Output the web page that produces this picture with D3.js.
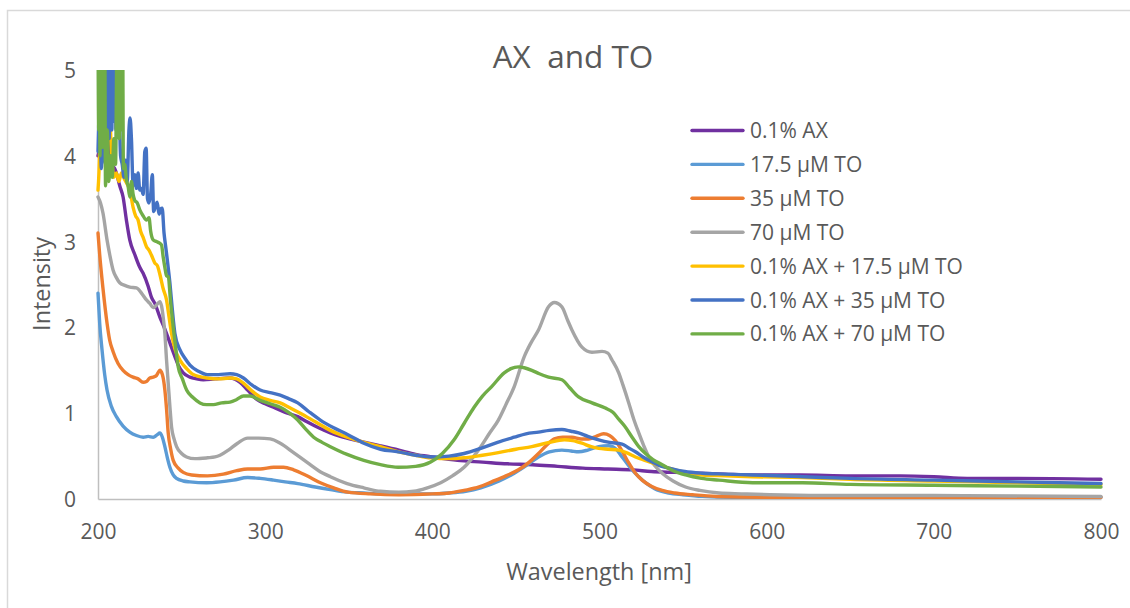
<!DOCTYPE html>
<html>
<head>
<meta charset="utf-8">
<script src="https://cdn.jsdelivr.net/npm/d3@7"></script>
<style>
  html, body { margin: 0; padding: 0; background: #fff; }
  svg { display: block; font-family: "Open Sans", "Noto Sans", sans-serif; }
</style>
</head>
<body>
<svg id="chart" width="1130" height="608"></svg>
<script>
// ---------- DATA ----------
const title = "AX  and TO";
const xTitle = "Wavelength [nm]";
const yTitle = "Intensity";
const xTicks = [200, 300, 400, 500, 600, 700, 800];
const yTicks = [0, 1, 2, 3, 4, 5];
const seriesNames = ["0.1% AX", "17.5 \u00B5M TO", "35 \u00B5M TO", "70 \u00B5M TO",
  "0.1% AX + 17.5 \u00B5M TO", "0.1% AX + 35 \u00B5M TO", "0.1% AX + 70 \u00B5M TO"];
const seriesColors = ["#7030A0", "#5B9BD5", "#ED7D31", "#A5A5A5", "#FFC000", "#4472C4", "#70AD47"];

// [wavelength nm, intensity]
const ax01 = [[200,4.00],[202,4.30],[203.8,5.60],[204.2,4.60],[204.6,5.60],[205,4.70],[205.4,5.60],[206.5,4.50],[207.5,4.00],[208.5,3.90],[210,3.85],[211,3.80],[213,3.65],[215,3.52],[217,3.25],[219,3.02],[222,2.85],[225,2.70],[227,2.63],[230,2.48],[232,2.35],[234,2.28],[237,2.12],[240,1.98],[243,1.82],[246,1.66],[248,1.56],[251,1.47],[255,1.42],[259,1.40],[263,1.39],[270,1.40],[279,1.41],[285,1.36],[289.5,1.27],[295,1.16],[300,1.11],[305,1.07],[312,1.01],[319.5,0.96],[325,0.90],[332,0.83],[339,0.77],[345,0.73],[355,0.68],[369,0.62],[380,0.57],[390,0.52],[400,0.49],[415,0.45],[430,0.43],[445,0.41],[460,0.40],[475,0.38],[490,0.36],[505,0.35],[520,0.34],[531,0.32],[545,0.31],[560,0.30],[575,0.29],[590,0.28],[620,0.28],[650,0.27],[680,0.27],[700,0.26],[720,0.24],[750,0.24],[800,0.23]];

const to175 = [[200,2.40],[201,2.05],[202.4,1.74],[204,1.45],[205.4,1.27],[208,1.08],[211,0.96],[215,0.85],[219,0.78],[223,0.74],[227,0.72],[230,0.73],[233,0.72],[235.5,0.75],[237,0.77],[238.5,0.72],[240,0.61],[241.5,0.48],[243,0.37],[245,0.28],[247,0.24],[251,0.21],[255,0.20],[265,0.19],[273,0.20],[281,0.22],[289.5,0.25],[297,0.24],[305,0.22],[312,0.20],[319.5,0.18],[330,0.14],[339,0.11],[349,0.08],[359,0.07],[370,0.06],[385,0.06],[400,0.06],[410,0.07],[420,0.09],[429,0.13],[440,0.21],[449,0.30],[457,0.40],[463.5,0.49],[470,0.55],[477.5,0.57],[483,0.56],[487.5,0.55],[493,0.57],[499.5,0.61],[505.5,0.62],[510,0.58],[513.5,0.49],[517,0.40],[519.5,0.34],[523.5,0.26],[527.5,0.19],[533,0.12],[541.5,0.07],[550,0.05],[561.5,0.03],[580,0.02],[620,0.02],[700,0.02],[800,0.02]];

const to35 = [[200,3.10],[201,2.85],[203,2.45],[205.4,2.05],[207,1.85],[209,1.72],[212,1.58],[215,1.50],[218,1.45],[221,1.42],[224,1.40],[227,1.36],[229,1.37],[231,1.41],[233,1.42],[235,1.44],[237,1.50],[238.5,1.45],[240,1.27],[241,1.05],[242,0.77],[243.5,0.58],[245,0.45],[248,0.36],[251,0.31],[256,0.28],[265.5,0.27],[275,0.29],[283,0.33],[289.5,0.35],[297,0.35],[305,0.37],[311,0.37],[317,0.34],[325,0.27],[333,0.19],[341,0.13],[349.5,0.08],[363,0.06],[380,0.05],[400,0.06],[410,0.07],[419,0.10],[428,0.14],[435.5,0.20],[444,0.27],[451.5,0.34],[458,0.43],[463.5,0.53],[468,0.62],[473,0.70],[478,0.72],[483.5,0.72],[489,0.70],[493.5,0.70],[498,0.73],[502.5,0.76],[506,0.74],[509.5,0.68],[513.5,0.56],[517.5,0.42],[521.5,0.30],[525.5,0.22],[531,0.15],[537.5,0.10],[545,0.07],[555.5,0.05],[570,0.03],[600,0.02],[700,0.02],[800,0.02]];

const to70 = [[200,3.52],[201.5,3.45],[203,3.33],[205.4,3.02],[207,2.85],[209,2.67],[211,2.58],[213,2.52],[216,2.49],[219,2.47],[223,2.46],[226,2.40],[229,2.32],[231,2.28],[233,2.23],[235,2.26],[237,2.30],[238,2.25],[239,2.12],[240,1.93],[241,1.62],[242,1.35],[243,1.08],[244,0.84],[245.5,0.70],[247,0.61],[250,0.53],[253,0.49],[258,0.47],[265.5,0.48],[270,0.49],[273,0.51],[278,0.57],[283.5,0.65],[289.5,0.71],[296,0.71],[303,0.70],[309,0.65],[317,0.54],[325.5,0.42],[332,0.33],[339,0.26],[349,0.18],[359,0.13],[369,0.09],[380,0.08],[389,0.09],[397,0.13],[405,0.19],[412,0.27],[419,0.37],[424,0.48],[429,0.61],[434,0.76],[439.5,0.92],[444,1.10],[449,1.31],[455,1.66],[459,1.82],[463.5,1.97],[469.5,2.24],[473,2.29],[477.5,2.24],[481,2.08],[483.5,1.97],[489.5,1.77],[495.5,1.71],[501.5,1.72],[505,1.70],[507.5,1.62],[511.5,1.47],[514,1.33],[517.5,1.12],[520.5,0.93],[523.5,0.77],[526.5,0.62],[529.5,0.49],[533,0.39],[537.5,0.30],[544,0.21],[551.5,0.14],[560,0.10],[571.5,0.07],[585,0.06],[602,0.05],[650,0.04],[700,0.04],[800,0.03]];

const axTo175 = [[200,3.60],[201,4.10],[202,5.60],[203.5,5.60],[204.5,4.40],[205.2,5.60],[205.6,4.50],[206,5.60],[206.4,4.60],[206.8,5.60],[207.5,4.30],[208.5,3.90],[209.5,3.75],[211,3.80],[212.5,3.70],[214,3.80],[216,3.72],[218,3.65],[219,3.60],[221,3.40],[222.5,3.30],[224,3.25],[225.5,3.12],[227,3.05],[229,2.94],[230.5,2.90],[232,2.84],[234,2.75],[235.5,2.72],[237,2.62],[239,2.45],[241,2.32],[242.5,2.12],[244,1.93],[246,1.75],[249,1.62],[253,1.52],[257,1.45],[265.5,1.41],[272,1.40],[279,1.41],[283,1.40],[287,1.35],[292,1.26],[297,1.19],[303,1.15],[309,1.12],[315,1.06],[321,1.00],[330,0.90],[339,0.80],[349,0.72],[359,0.66],[369,0.61],[380,0.55],[390,0.51],[399,0.48],[410,0.47],[419,0.48],[430,0.51],[439.5,0.54],[450,0.58],[459.5,0.61],[470,0.66],[479,0.69],[484,0.68],[489.5,0.65],[495,0.61],[499.5,0.59],[505,0.58],[511.5,0.57],[516,0.54],[521.5,0.49],[526,0.46],[531.5,0.42],[541.5,0.36],[551,0.31],[561.5,0.28],[575,0.27],[591.5,0.26],[621.5,0.25],[650,0.23],[700,0.21],[750,0.19],[800,0.17]];

const axTo35 = [[200,4.05],[201,4.60],[202,3.85],[203,4.25],[204.5,3.90],[205.5,5.60],[205.9,4.40],[206.3,5.60],[206.7,4.20],[207.1,5.60],[207.5,4.60],[207.9,5.60],[208.3,4.30],[208.7,5.60],[209.1,4.50],[209.5,5.60],[209.9,4.40],[210.3,5.60],[210.7,4.30],[211.1,5.60],[211.5,4.30],[212.5,4.60],[213.5,4.00],[214.5,3.90],[215.5,3.75],[216.5,3.95],[217.5,3.70],[218.5,4.30],[219.2,4.44],[220,4.20],[221,3.65],[222,3.78],[223,3.62],[224,3.80],[225,3.60],[226,3.62],[227,3.55],[228,4.05],[228.8,4.09],[229.6,3.50],[230.5,3.45],[231.5,3.55],[232.5,3.78],[233.3,3.35],[234.5,3.42],[235.4,3.46],[236.5,3.32],[237.5,3.38],[238.4,3.39],[239.5,3.10],[240.5,2.94],[241.5,2.78],[243,2.52],[244.5,2.20],[246,1.93],[249,1.74],[252,1.64],[255,1.56],[260,1.49],[265.5,1.45],[272,1.45],[279,1.46],[283,1.45],[287,1.41],[292,1.33],[297,1.27],[303,1.24],[309,1.21],[314,1.17],[319.5,1.12],[326,1.02],[333,0.92],[341,0.83],[349.5,0.75],[359,0.65],[369,0.58],[379.5,0.55],[390,0.51],[399,0.49],[410,0.50],[419,0.53],[429,0.59],[439,0.66],[449,0.72],[456,0.76],[463.5,0.78],[470,0.80],[477.5,0.81],[483,0.79],[487.5,0.77],[493,0.73],[499.5,0.69],[506,0.66],[513.5,0.64],[517,0.60],[521.5,0.55],[526,0.49],[531.5,0.43],[536,0.39],[541.5,0.36],[551,0.32],[561.5,0.30],[575,0.29],[591.5,0.28],[621.5,0.26],[650,0.24],[700,0.22],[750,0.20],[800,0.18]];

const axTo70 = [[200,5.60],[200.4,4.30],[200.8,5.60],[201.2,4.00],[201.6,5.60],[202,4.40],[202.4,5.60],[202.8,4.10],[203.2,5.60],[203.6,4.50],[204,5.60],[204.5,3.65],[205.5,4.30],[206.5,3.70],[207.5,4.00],[208.5,3.75],[209.5,4.20],[210.5,3.90],[211.5,5.60],[211.9,4.40],[212.3,5.60],[212.7,4.20],[213.1,5.60],[213.5,4.50],[213.9,5.60],[214.3,4.30],[214.7,5.60],[215.2,3.85],[216,3.90],[217,3.72],[218,3.65],[219,3.52],[220,3.70],[221,3.55],[222,3.48],[223.5,3.45],[225,3.37],[227,3.30],[229,3.25],[230.5,3.28],[231.5,3.12],[233,3.02],[235,3.00],[237,2.98],[238,2.96],[239,2.82],[240,2.70],[241,2.60],[242,2.59],[243.5,2.28],[245,2.00],[246.5,1.76],[248,1.54],[250.5,1.40],[253,1.27],[257,1.18],[261,1.12],[265,1.10],[269,1.10],[274,1.12],[279,1.13],[283,1.16],[287,1.20],[291,1.20],[297,1.15],[303,1.11],[309,1.07],[314,1.01],[319.5,0.92],[324,0.82],[329,0.72],[334,0.66],[339,0.61],[349,0.52],[359,0.45],[369,0.40],[379.5,0.37],[390,0.38],[399,0.43],[406,0.53],[413,0.69],[419,0.88],[425,1.07],[430,1.20],[435.5,1.31],[443,1.47],[447,1.52],[451.5,1.54],[455,1.53],[459.5,1.50],[464,1.46],[469.5,1.42],[477.5,1.39],[482,1.30],[487.5,1.19],[495.5,1.12],[503.5,1.06],[508,1.01],[511.5,0.93],[515,0.85],[519.5,0.72],[523.5,0.61],[527.5,0.53],[532,0.46],[537.5,0.40],[544,0.33],[551.5,0.28],[561,0.24],[571.5,0.22],[591.5,0.19],[621.5,0.19],[650,0.17],[700,0.16],[750,0.15],[800,0.14]];

const seriesData = [ax01, to175, to35, to70, axTo175, axTo35, axTo70];

// ---------- LAYOUT ----------
const svg = d3.select("#chart");
const W = 1130, H = 608;
const plot = { left: 98, right: 1101, top: 70, bottom: 499 };
const textColor = "#595959";
const axisColor = "#BFBFBF";

// chart frame
svg.append("rect")
  .attr("x", 7.5).attr("y", 10.5)
  .attr("width", W).attr("height", H)
  .attr("fill", "#fff").attr("stroke", "#D9D9D9").attr("stroke-width", 1.5);

const x = d3.scaleLinear().domain([200, 800]).range([plot.left, plot.right]);
const y = d3.scaleLinear().domain([0, 5]).range([plot.bottom, plot.top]);

// clip for values above the axis max
svg.append("defs").append("clipPath").attr("id", "plotclip")
  .append("rect")
  .attr("x", plot.left - 4).attr("y", plot.top)
  .attr("width", plot.right - plot.left + 8).attr("height", plot.bottom - plot.top + 6);

// axes
const xAxis = d3.axisBottom(x).tickValues(xTicks).tickSize(0).tickPadding(0).tickFormat(d3.format("d"));
const gx = svg.append("g").attr("transform", `translate(0,${plot.bottom})`).call(xAxis);
gx.select(".domain").attr("stroke", axisColor).attr("stroke-width", 1.5);
gx.selectAll(".tick text")
  .attr("y", 40).attr("dy", 0)
  .attr("fill", textColor).attr("font-size", 21)
  .attr("font-family", "'Open Sans', sans-serif");

const yAxis = d3.axisLeft(y).tickValues(yTicks).tickSize(0).tickPadding(0).tickFormat(d3.format("d"));
const gy = svg.append("g").attr("transform", `translate(${plot.left},0)`).call(yAxis);
gy.select(".domain").attr("stroke", axisColor).attr("stroke-width", 1.5);
gy.selectAll(".tick text")
  .attr("x", -22).attr("dy", "0.36em")
  .attr("fill", textColor).attr("font-size", 21)
  .attr("font-family", "'Open Sans', sans-serif");

// lines
const line = d3.line()
  .x(d => x(d[0]))
  .y(d => y(d[1]))
  .curve(d3.curveMonotoneX);

const gLines = svg.append("g").attr("clip-path", "url(#plotclip)");
seriesData.forEach((s, i) => {
  gLines.append("path")
    .datum(s)
    .attr("d", line)
    .attr("fill", "none")
    .attr("stroke", seriesColors[i])
    .attr("stroke-width", 3.4)
    .attr("stroke-linejoin", "round")
    .attr("stroke-linecap", "round");
});

// title
svg.append("text")
  .attr("x", 573).attr("y", 57)
  .attr("dy", "0.36em")
  .attr("text-anchor", "middle")
  .attr("fill", textColor)
  .attr("font-size", 31.5)
  .style("white-space", "pre")
  .text(title);

// axis titles
svg.append("text")
  .attr("x", 599).attr("y", 572)
  .attr("dy", "0.36em")
  .attr("text-anchor", "middle")
  .attr("fill", textColor)
  .attr("font-size", 23.4)
  .text(xTitle);

svg.append("text")
  .attr("transform", "translate(42,284) rotate(-90)")
  .attr("dy", "0.36em")
  .attr("text-anchor", "middle")
  .attr("fill", textColor)
  .attr("font-size", 23.4)
  .text(yTitle);

// legend
const legend = svg.append("g");
const legY0 = 130.5, legStep = 33.9;
seriesNames.forEach((name, i) => {
  const yy = legY0 + i * legStep;
  legend.append("line")
    .attr("x1", 692).attr("x2", 743)
    .attr("y1", yy).attr("y2", yy)
    .attr("stroke", seriesColors[i]).attr("stroke-width", 3.4)
    .attr("stroke-linecap", "round");
  legend.append("text")
    .attr("x", 750).attr("y", yy)
    .attr("dy", "0.36em")
    .attr("fill", textColor)
    .attr("font-size", 21)
    .text(name);
});
</script>
</body>
</html>
